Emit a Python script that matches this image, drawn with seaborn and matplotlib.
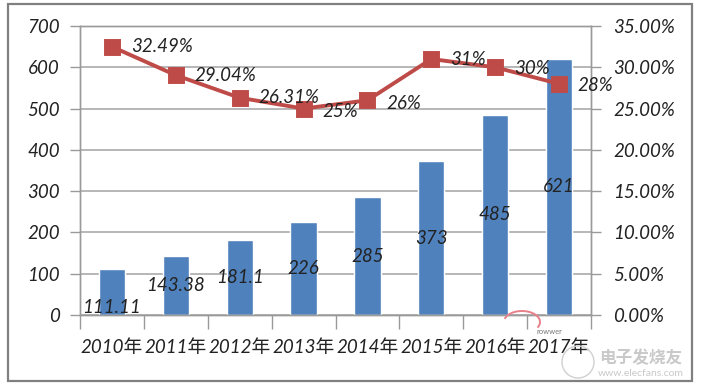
import matplotlib
matplotlib.use("Agg")
import matplotlib.pyplot as plt
from matplotlib.patches import Rectangle, Arc, Circle
from matplotlib.transforms import IdentityTransform
import seaborn as sns
import pandas as pd

years = ["2010年", "2011年", "2012年", "2013年", "2014年", "2015年", "2016年", "2017年"]
revenue = [111.11, 143.38, 181.1, 226, 285, 373, 485, 621]
growth = [32.49, 29.04, 26.31, 25, 26, 31, 30, 28]
growth_labels = ["32.49%", "29.04%", "26.31%", "25%", "26%", "31%", "30%", "28%"]
revenue_labels = ["111.11", "143.38", "181.1", "226", "285", "373", "485", "621"]
left_ticks = [0, 100, 200, 300, 400, 500, 600, 700]
right_ticks = [0, 5, 10, 15, 20, 25, 30, 35]
right_labels = ["0.00%", "5.00%", "10.00%", "15.00%", "20.00%", "25.00%", "30.00%", "35.00%"]

BLUE = "#4F81BD"
RED = "#BE4B48"
GRAY = "#9A9A9A"
TXT = "#222222"

sns.set_theme(style="white")
plt.rcParams["font.family"] = ["Lato", "Noto Sans CJK SC", "DejaVu Sans"]
FS = 13.5

df = pd.DataFrame({"year": years, "revenue": revenue, "growth": growth})

W, H = 703, 390
fig = plt.figure(figsize=(W / 100, H / 100), dpi=100, facecolor="white")
ax = fig.add_axes([80 / W, 1 - 315 / H, (591 - 80) / W, (315 - 26) / H])

sns.barplot(data=df, x="year", y="revenue", color=BLUE, saturation=1, width=0.41, ax=ax, zorder=2)
ax.set_xlim(-0.5, 7.5)
ax.set_ylim(0, 700)
ax.set_xlabel("")
ax.set_ylabel("")
ax.set_yticks(left_ticks)
ax.yaxis.grid(True, color="#AAAAAA", lw=1.2, zorder=0)
ax.set_axisbelow(True)
ax.set_xticks(range(len(years)))
ax.set_xticklabels(years, fontsize=FS, style="italic", color=TXT)
ax.set_xticks([i - 0.5 for i in range(len(years) + 1)], minor=True)
ax.tick_params(axis="x", which="major", length=0, pad=17)
ax.tick_params(axis="x", which="minor", length=10, width=1, color=GRAY, bottom=True)
ax.tick_params(axis="y", length=7, width=1, color=GRAY, left=True, pad=7.5, labelsize=FS, labelcolor=TXT)
for t in ax.get_yticklabels():
    t.set_style("italic")
for s in ax.spines.values():
    s.set_color(GRAY)
    s.set_linewidth(1)

labs = ax.bar_label(ax.containers[0], labels=revenue_labels, label_type="center",
                    fontsize=FS, style="italic", color=TXT)
labs[0].set_position((0, -11))

ax2 = ax.twinx()
sns.pointplot(data=df, x="year", y="growth", color=RED, markers="s", markersize=10.5,
              linewidth=2.8, errorbar=None, ax=ax2)
ax2.set_xlim(-0.5, 7.5)
ax2.set_ylim(0, 35)
ax2.set_xlabel("")
ax2.set_ylabel("")
ax2.set_yticks(right_ticks)
ax2.set_yticklabels(right_labels, fontsize=FS, style="italic", color=TXT)
ax2.tick_params(axis="y", length=7, width=1, color=GRAY, right=True, pad=9)
for s in ax2.spines.values():
    s.set_color(GRAY)
    s.set_linewidth(1)

dy = [0, 0, 0, -2, -2, 0, -1, -1]
for i, (g, lab) in enumerate(zip(growth, growth_labels)):
    ax2.annotate(lab, (i, g), xytext=(13.5, dy[i]), textcoords="offset points", ha="left",
                 va="center", fontsize=FS, style="italic", color=TXT, clip_on=False)

# outer chart frame
fig.add_artist(Rectangle((8 / W, 1 - 381 / H), (692 - 8) / W, (381 - 4) / H, transform=fig.transFigure,
                         fill=False, edgecolor="#808080", lw=1.6))

# watermark
fig.text(641 / W, 1 - 358 / H, "电子发烧友", fontsize=12, color="#C9C9C9", ha="center", va="center",
         style="italic", weight="bold", family=["Noto Sans CJK SC", "DejaVu Sans"])
fig.text(641 / W, 1 - 374 / H, "www.elecfans.com", fontsize=7.5, color="#C9C9C9", ha="center", va="center")
fig.text(549 / W, 1 - 331 / H, "rowwer", fontsize=5.5, color="#777777", ha="center", va="center")
fig.add_artist(Arc((522, H - 322), 36, 22, theta1=-20, theta2=170, color="#E8808A", lw=1.4,
                   transform=IdentityTransform()))
fig.add_artist(Circle((578, H - 362), 16, fill=False, edgecolor="#D0D0D0", lw=1,
                      transform=IdentityTransform()))

fig.savefig("out.png", dpi=100)
